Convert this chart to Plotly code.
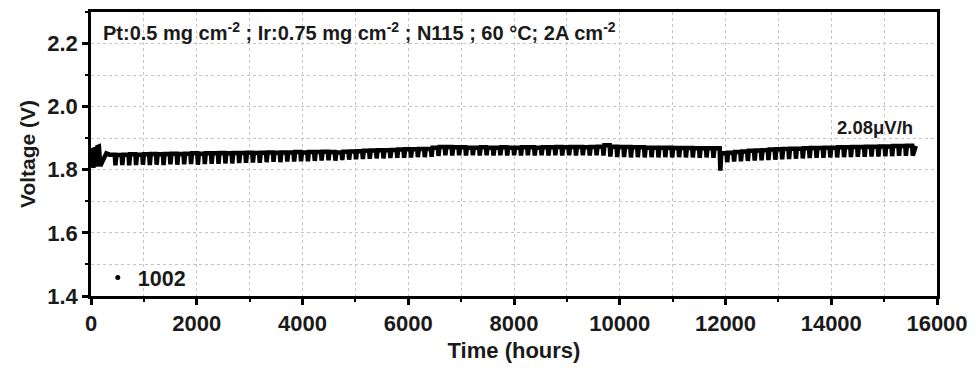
import plotly.graph_objects as go

# ---- data ----
# initial start-up segment (hours, volts)
start_hours = [0, 15, 30, 45, 60, 75, 90, 105, 120, 150, 175, 290]
start_volts = [1.860, 1.812, 1.868, 1.806, 1.870, 1.815, 1.872, 1.810, 1.872, 1.874, 1.812, 1.852]

# periodic cycles: start hour, plateau voltage, voltage at the dip ending the cycle
cycle_hours = [
    350, 480, 610, 740, 870, 1000, 1130, 1260, 1390, 1520, 1650, 1780, 1910, 2040, 2170,
    2300, 2430, 2560, 2690, 2820, 2950, 3080, 3210, 3340, 3470, 3600, 3730, 3860, 3990,
    4120, 4250, 4380, 4510, 4640, 4770, 4900, 5030, 5160, 5290, 5420, 5550, 5680, 5810,
    5940, 6070, 6200, 6330, 6460, 6590, 6720, 6850, 6980, 7110, 7240, 7370, 7500, 7630,
    7760, 7890, 8020, 8150, 8280, 8410, 8540, 8670, 8800, 8930, 9060, 9190, 9320, 9450,
    9580, 9710, 9840, 9970, 10100, 10230, 10360, 10490, 10620, 10750, 10880, 11010, 11140,
    11270, 11400, 11530, 11660, 11790,
    11920, 12050, 12180, 12310, 12440, 12570, 12700, 12830, 12960, 13090, 13220, 13350,
    13480, 13610, 13740, 13870, 14000, 14130, 14260, 14390, 14520, 14650, 14780, 14910,
    15040, 15170, 15300, 15430,
]
plateau_volts = [
    1.848, 1.847, 1.848, 1.849, 1.848, 1.849, 1.850, 1.849, 1.850, 1.851, 1.850, 1.851, 1.852, 1.851, 1.852,
    1.852, 1.853, 1.852, 1.853, 1.853, 1.854, 1.853, 1.854, 1.855, 1.854, 1.855, 1.855, 1.856, 1.855,
    1.856, 1.856, 1.857, 1.856, 1.855, 1.857, 1.858, 1.859, 1.860, 1.861, 1.862, 1.862, 1.863, 1.864,
    1.865, 1.865, 1.866, 1.866, 1.870, 1.872, 1.872, 1.871, 1.871, 1.870, 1.870, 1.871, 1.870, 1.870,
    1.871, 1.870, 1.870, 1.871, 1.871, 1.870, 1.871, 1.871, 1.872, 1.871, 1.872, 1.872, 1.871, 1.872,
    1.873, 1.878, 1.873, 1.872, 1.872, 1.871, 1.871, 1.870, 1.870, 1.870, 1.870, 1.869, 1.869,
    1.869, 1.868, 1.868, 1.868, 1.868,
    1.852, 1.854, 1.856, 1.858, 1.860, 1.861, 1.862, 1.864, 1.865, 1.866, 1.867, 1.867,
    1.868, 1.869, 1.869, 1.870, 1.870, 1.871, 1.871, 1.872, 1.872, 1.873, 1.873, 1.874,
    1.874, 1.875, 1.875, 1.876,
]
dip_volts = [
    1.814, 1.815, 1.814, 1.815, 1.816, 1.815, 1.816, 1.815, 1.817, 1.816, 1.817, 1.818, 1.816, 1.818, 1.819,
    1.819, 1.820, 1.820, 1.821, 1.822, 1.823, 1.822, 1.824, 1.825, 1.824, 1.826, 1.826, 1.827, 1.827,
    1.828, 1.829, 1.830, 1.829, 1.831, 1.832, 1.833, 1.834, 1.835, 1.836, 1.836, 1.837, 1.838, 1.838,
    1.839, 1.840, 1.840, 1.841, 1.844, 1.846, 1.845, 1.846, 1.845, 1.846, 1.845, 1.846, 1.845, 1.846,
    1.845, 1.846, 1.845, 1.846, 1.845, 1.846, 1.845, 1.846, 1.845, 1.846, 1.845, 1.846, 1.845, 1.846,
    1.845, 1.842, 1.840, 1.840, 1.839, 1.840, 1.839, 1.840, 1.839, 1.840, 1.839, 1.840, 1.839,
    1.839, 1.838, 1.839, 1.838, 1.797,
    1.824, 1.826, 1.827, 1.828, 1.829, 1.830, 1.831, 1.832, 1.833, 1.834, 1.835, 1.836,
    1.837, 1.838, 1.838, 1.839, 1.839, 1.840, 1.840, 1.841, 1.841, 1.842, 1.842, 1.843,
    1.843, 1.844, 1.844, 1.845,
]
end_hours = [15600]
end_volts = [1.876]

x_ticks = [0, 2000, 4000, 6000, 8000, 10000, 12000, 14000, 16000]
x_tick_labels = ["0", "2000", "4000", "6000", "8000", "10000", "12000", "14000", "16000"]
y_ticks = [1.4, 1.6, 1.8, 2.0, 2.2]
y_tick_labels = ["1.4", "1.6", "1.8", "2.0", "2.2"]
series_name = "1002"
note_text = ("Pt:0.5 mg cm<sup>-2</sup> ; Ir:0.75 mg cm<sup>-2</sup> ; N115 ; "
             "60 \u00b0C; 2A cm<sup>-2</sup>")
rate_text = "2.08\u03bcV/h"

# ---- build the trace from the cycle table ----
xs, ys = list(start_hours), list(start_volts)
for t, top, dip in zip(cycle_hours, plateau_volts, dip_volts):
    xs += [t, t + 100, t + 112]
    ys += [top, top, dip]
xs += end_hours
ys += end_volts

FONT = "Liberation Sans, Arial, sans-serif"
TXT = "#1a1a1a"

fig = go.Figure()
fig.add_trace(go.Scatter(
    x=xs, y=ys, mode="lines", showlegend=False,
    line=dict(color="black", width=4.5), hoverinfo="skip",
))
fig.add_trace(go.Scatter(
    x=[None], y=[None], mode="markers", name=series_name,
    marker=dict(color="black", size=5),
))

axis_common = dict(
    showline=True, linecolor="black", linewidth=2.5, mirror=True,
    ticks="outside", ticklen=6, tickwidth=2.5, tickcolor="black",
    showgrid=True, gridcolor="#c4c4c4", gridwidth=1, griddash="dot",
    zeroline=False, automargin=False,
    tickfont=dict(family=FONT, size=22, color=TXT, weight="bold"),
)

fig.update_xaxes(
    **axis_common,
    range=[0, 16000], tickmode="array", tickvals=x_ticks, ticktext=x_tick_labels,
    minor=dict(dtick=1000, ticks="outside", ticklen=3, tickwidth=2, tickcolor="black",
               showgrid=True, gridcolor="#c4c4c4", griddash="dot", gridwidth=1),
    title=dict(text="Time (hours)", standoff=8,
               font=dict(family=FONT, size=22, color=TXT, weight="bold")),
)
fig.update_yaxes(
    **axis_common,
    range=[1.4, 2.3], tickmode="array", tickvals=y_ticks, ticktext=y_tick_labels,
    minor=dict(dtick=0.1, ticks="outside", ticklen=3, tickwidth=2, tickcolor="black",
               showgrid=True, gridcolor="#c4c4c4", griddash="dot", gridwidth=1),
    title=dict(text="Voltage (V)", standoff=6,
               font=dict(family=FONT, size=21, color=TXT, weight="bold")),
)

fig.add_annotation(
    text=note_text, xref="paper", yref="paper", x=0.012, y=0.933,
    xanchor="left", yanchor="middle", showarrow=False,
    font=dict(family=FONT, size=20, color=TXT, weight="bold"),
)
fig.add_annotation(
    text=rate_text, xref="x", yref="y", x=15590, y=1.934,
    xanchor="right", yanchor="middle", showarrow=False,
    font=dict(family=FONT, size=18.5, color=TXT, weight="bold"),
)

fig.update_layout(
    width=975, height=368,
    margin=dict(l=91, r=38, t=12, b=72),
    paper_bgcolor="white", plot_bgcolor="white",
    legend=dict(x=0.008, y=0.065, xanchor="left", yanchor="middle",
                bgcolor="rgba(0,0,0,0)",
                font=dict(family=FONT, size=21.5, color=TXT, weight="bold")),
)

fig.write_html(
    "out.html",
    config={"displayModeBar": False},
    post_script="document.body.style.margin='0';document.body.style.overflow='hidden';",
)
